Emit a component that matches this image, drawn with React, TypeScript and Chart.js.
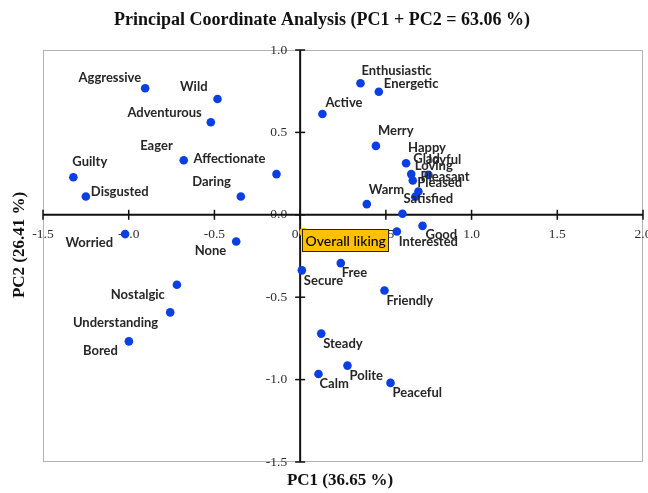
import React, { useEffect, useRef } from "react";
import { Chart, registerables } from "chart.js";

Chart.register(...registerables);

// ---------- data ----------
const termNames = [
  "Aggressive", "Wild", "Adventurous", "Eager", "Affectionate", "Guilty", "Disgusted", "Daring",
  "Worried", "None", "Nostalgic", "Understanding", "Bored",
  "Enthusiastic", "Energetic", "Active", "Merry", "Happy", "Glad", "Joyful", "Loving",
  "Pleasant", "Pleased", "Satisfied", "Warm", "Good", "Interested",
  "Secure", "Free", "Friendly", "Steady", "Calm", "Polite", "Peaceful",
  "Overall liking",
];
const pc1Values = [
  -0.904, -0.482, -0.521, -0.679, -0.138, -1.323, -1.250, -0.346,
  -1.021, -0.373, -0.719, -0.758, -0.999,
  0.352, 0.459, 0.130, 0.442, 0.618, 0.648, 0.749, 0.657,
  0.690, 0.672, 0.597, 0.389, 0.714, 0.564,
  0.010, 0.237, 0.492, 0.123, 0.107, 0.276, 0.527,
  0.020,
];
const pc2Values = [
  0.768, 0.703, 0.562, 0.331, 0.247, 0.228, 0.111, 0.111,
  -0.117, -0.162, -0.424, -0.592, -0.768,
  0.798, 0.747, 0.612, 0.418, 0.313, 0.247, 0.242, 0.208,
  0.141, 0.110, 0.006, 0.065, -0.067, -0.101,
  -0.337, -0.293, -0.459, -0.721, -0.966, -0.915, -1.020,
  -0.105,
];
const highlightName = "Overall liking";
const xTickValues = [-1.5, -1.0, -0.5, 0.0, 0.5, 1.0, 1.5, 2.0];
const yTickValues = [-1.5, -1.0, -0.5, 0.0, 0.5, 1.0];
const chartTitle = "Principal Coordinate Analysis (PC1 + PC2 = 63.06 %)";
const xAxisTitle = "PC1 (36.65 %)";
const yAxisTitle = "PC2 (26.41 %)";

// ---------- label placement (style only) ----------
// [textAlign, dx from marker, dy from marker to text middle]
const labelPlacement: Record<string, [CanvasTextAlign, number, number]> = {
  Aggressive: ["right", -4, -10],
  Wild: ["right", -10, -12],
  Adventurous: ["right", -9, -9],
  Eager: ["right", -11, -14],
  Affectionate: ["right", -11, -15],
  Guilty: ["left", -1, -15],
  Disgusted: ["left", 5, -5],
  Daring: ["right", -10, -15],
  Worried: ["right", -12, 9],
  None: ["right", -10, 9],
  Nostalgic: ["right", -12, 10],
  Understanding: ["right", -12, 10],
  Bored: ["right", -11, 9],
  Enthusiastic: ["left", 1, -12],
  Energetic: ["left", 5, -8],
  Active: ["left", 3, -11],
  Merry: ["left", 2, -15],
  Happy: ["left", 2, -15],
  Glad: ["left", 2, -15],
  Joyful: ["left", -2, -15],
  Loving: ["left", 2, -15],
  Pleasant: ["left", 2, -15],
  Pleased: ["left", 2, -14],
  Satisfied: ["left", 1, -15],
  Warm: ["left", 2, -14],
  Good: ["left", 3, 9],
  Interested: ["left", 2, 10],
  Secure: ["left", 2, 10],
  Free: ["left", 1, 10],
  Friendly: ["left", 2, 10],
  Steady: ["left", 2, 10],
  Calm: ["left", 1, 10],
  Polite: ["left", 2, 10],
  Peaceful: ["left", 2, 10],
};

const BLUE = "#0b3fe6";
const YELLOW = "#FFC000";
const SERIF = '"Liberation Serif", "DejaVu Serif", serif';
const SANS = 'Lato, "Open Sans", sans-serif';

const pcoaPlugin = {
  id: "pcoaDecor",
  beforeDatasetsDraw(chart: any) {
    const { ctx, chartArea: a, scales } = chart;
    const xs = scales.x;
    const ys = scales.y;
    const x0 = xs.getPixelForValue(0);
    const y0 = ys.getPixelForValue(0);
    const line = (x1: number, y1: number, x2: number, y2: number) => {
      ctx.beginPath();
      ctx.moveTo(x1, y1);
      ctx.lineTo(x2, y2);
      ctx.stroke();
    };
    ctx.save();
    // plot-area border
    ctx.strokeStyle = "#b4b4b4";
    ctx.lineWidth = 1;
    ctx.strokeRect(a.left + 0.5, a.top + 0.5, a.right - a.left - 1, a.bottom - a.top - 1);
    // tick labels
    ctx.fillStyle = "#2e2e2e";
    ctx.font = `13.5px ${SERIF}`;
    ctx.textBaseline = "middle";
    ctx.textAlign = "center";
    xTickValues.forEach((v) => ctx.fillText(v.toFixed(1), xs.getPixelForValue(v), y0 + 20));
    ctx.textAlign = "right";
    yTickValues.forEach((v) => ctx.fillText(v.toFixed(1), x0 - 13, ys.getPixelForValue(v)));
    // axes through origin
    ctx.strokeStyle = "#111";
    ctx.lineWidth = 2;
    line(a.left, y0, a.right, y0);
    line(x0, a.top, x0, a.bottom);
    ctx.lineWidth = 1.5;
    xTickValues.forEach((v) => {
      const px = xs.getPixelForValue(v);
      line(px, y0 - 5, px, y0 + 5);
    });
    yTickValues.forEach((v) => {
      const py = ys.getPixelForValue(v);
      line(x0 - 5, py, x0 + 5, py);
    });
    ctx.restore();
  },
  afterDatasetsDraw(chart: any) {
    const { ctx } = chart;
    const meta = chart.getDatasetMeta(0);
    ctx.save();
    ctx.textBaseline = "middle";
    termNames.forEach((name, i) => {
      const el = meta.data[i];
      if (!el) return;
      const px = el.x;
      const py = el.y;
      if (name === highlightName) {
        const bx = Math.round(px - 2) + 0.5;
        const by = Math.round(py - 3) + 0.5;
        ctx.fillStyle = YELLOW;
        ctx.fillRect(bx, by, 86, 22);
        ctx.strokeStyle = "#2b2400";
        ctx.lineWidth = 1;
        ctx.strokeRect(bx, by, 86, 22);
        ctx.fillStyle = "#000";
        ctx.font = `500 14px ${SANS}`;
        ctx.textAlign = "left";
        ctx.fillText(name, bx + 3, by + 11.5);
        return;
      }
      const p = labelPlacement[name] || ["left", 3, -12];
      ctx.fillStyle = "#262626";
      ctx.font = `bold 13px ${SANS}`;
      ctx.textAlign = p[0];
      ctx.fillText(name, px + p[1], py + p[2]);
    });
    ctx.restore();
  },
  afterDraw(chart: any) {
    const { ctx } = chart;
    ctx.save();
    ctx.fillStyle = "#111";
    ctx.textAlign = "center";
    ctx.textBaseline = "middle";
    ctx.font = `bold 18px ${SERIF}`;
    ctx.fillText(chartTitle, 322, 20);
    ctx.font = `bold 17px ${SERIF}`;
    ctx.fillText(xAxisTitle, 340, 481);
    ctx.translate(20, 245);
    ctx.rotate(-Math.PI / 2);
    ctx.fillText(yAxisTitle, 0, 0);
    ctx.restore();
  },
};

export default function App() {
  const canvasRef = useRef<HTMLCanvasElement | null>(null);

  useEffect(() => {
    document.body.style.margin = "0";
    const canvas = canvasRef.current;
    if (!canvas) return;
    const points = termNames.map((_, i) => ({ x: pc1Values[i], y: pc2Values[i] }));
    const colors = termNames.map((n) => (n === highlightName ? YELLOW : BLUE));
    const chart = new Chart(canvas, {
      type: "scatter",
      data: {
        datasets: [
          {
            label: "Terms",
            data: points,
            pointRadius: 4.3,
            pointHoverRadius: 4.3,
            pointBackgroundColor: colors,
            pointBorderColor: colors,
            pointBorderWidth: 0,
          },
        ],
      },
      options: {
        responsive: false,
        maintainAspectRatio: false,
        animation: false,
        devicePixelRatio: 1,
        layout: { padding: { left: 43, right: 5, top: 50, bottom: 31 } },
        plugins: {
          legend: { display: false },
          title: { display: false },
          tooltip: { enabled: false },
        },
        scales: {
          x: { type: "linear", min: -1.5, max: 2.0, display: false, ticks: { stepSize: 0.5 } },
          y: { type: "linear", min: -1.5, max: 1.0, display: false, ticks: { stepSize: 0.5 } },
        },
      },
      plugins: [pcoaPlugin],
    });
    return () => chart.destroy();
  }, []);

  return (
    <div style={{ width: 648, height: 493, background: "#fff" }}>
      <canvas ref={canvasRef} width={648} height={493} style={{ display: "block" }} />
    </div>
  );
}
